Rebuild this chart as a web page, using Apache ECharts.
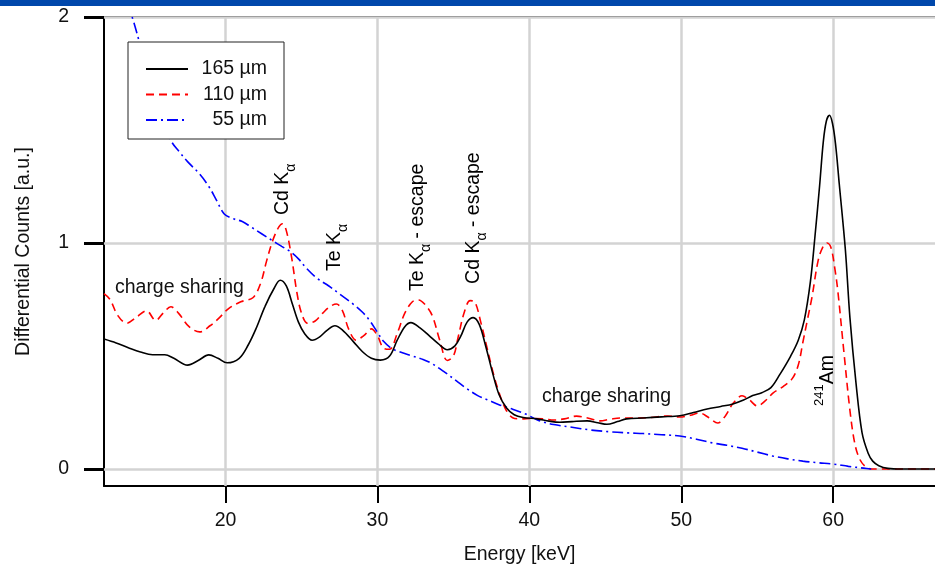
<!DOCTYPE html>
<html>
<head>
<meta charset="utf-8">
<script src="https://cdn.jsdelivr.net/npm/echarts@6.0.0/dist/echarts.min.js"></script>
<style>
  html, body { margin: 0; padding: 0; background: #fff; }
  #chart { width: 935px; height: 569px; }
</style>
</head>
<body>
<div id="chart"></div>
<script>
// Pulse-height spectra of a CdTe sensor (Am-241 source) for three pixel pitches.

const seriesNames = ['165 µm', '110 µm', '55 µm'];

// 165 µm pixels
const energy165 = [12.0, 12.8, 13.6, 14.4, 15.2, 16.0, 16.6, 17.5, 18.2, 18.9, 19.5, 20.1, 20.9, 21.5, 22.0, 22.6,
  23.2, 23.6, 24.0, 24.4, 24.8, 25.2, 25.7, 26.2, 26.7, 27.2, 27.7, 28.4, 29.0, 29.6, 30.2, 30.8, 31.3, 31.8,
  32.2, 32.8, 33.4, 34.0, 34.6, 35.1, 35.5, 35.9, 36.3, 36.7, 37.1, 37.6, 38.0, 38.5, 39.0, 39.6, 40.5, 41.3,
  42.0, 42.8, 43.8, 44.5, 45.1, 45.8, 46.4, 47.5, 48.7, 49.9, 50.8, 51.7, 52.6, 53.4, 54.1, 54.7, 55.3, 55.9,
  56.5, 57.2, 57.7, 58.1, 58.5, 58.8, 59.1, 59.35, 59.55, 59.75, 59.95, 60.15, 60.4, 60.8, 61.1, 61.5, 61.9,
  62.3, 62.6, 63.0, 63.6, 64.5, 66.7];
const counts165 = [0.575, 0.558, 0.537, 0.518, 0.506, 0.506, 0.49, 0.46, 0.48, 0.505, 0.49, 0.47, 0.49, 0.55, 0.62, 0.72,
  0.80, 0.835, 0.81, 0.73, 0.65, 0.60, 0.57, 0.585, 0.615, 0.634, 0.615, 0.565, 0.52, 0.49, 0.482, 0.50, 0.57, 0.63,
  0.648, 0.625, 0.59, 0.555, 0.528, 0.545, 0.59, 0.65, 0.67, 0.64, 0.55, 0.42, 0.33, 0.27, 0.24, 0.228, 0.222, 0.212,
  0.207, 0.21, 0.213, 0.205, 0.198, 0.21, 0.222, 0.226, 0.231, 0.236, 0.25, 0.266, 0.277, 0.288, 0.305, 0.325, 0.338, 0.36,
  0.42, 0.50, 0.57, 0.66, 0.83, 1.03, 1.25, 1.45, 1.54, 1.565, 1.53, 1.44, 1.26, 0.97, 0.67, 0.38, 0.16,
  0.07, 0.035, 0.015, 0.003, 0.0, 0.0];

// 110 µm pixels
const energy110 = [12.0, 12.4, 12.9, 13.5, 14.1, 14.8, 15.4, 15.9, 16.4, 16.9, 17.6, 18.3, 19.0, 19.6, 20.2, 21.0,
  21.8, 22.3, 22.7, 23.1, 23.5, 23.75, 24.0, 24.35, 24.7, 25.0, 25.4, 25.9, 26.4, 26.9, 27.3, 27.7, 28.1, 28.6,
  29.1, 29.6, 30.0, 30.4, 30.8, 31.3, 31.8, 32.3, 32.7, 33.1, 33.6, 34.1, 34.6, 35.0, 35.3, 35.7, 36.1, 36.4,
  36.8, 37.2, 37.6, 37.9, 38.4, 38.9, 39.4, 40.2, 41.0, 41.6, 42.3, 43.1, 43.9, 44.65, 45.3, 46.0, 47.0, 48.0,
  49.1, 49.9, 50.6, 51.2, 51.8, 52.4, 52.9, 53.4, 54.0, 54.5, 55.0, 55.5, 56.05, 56.7, 57.3, 57.7, 58.0, 58.3,
  58.6, 59.0, 59.3, 59.6, 59.85, 60.1, 60.3, 60.7, 61.1, 61.4, 61.7, 62.1, 62.6, 66.7];
const counts110 = [0.776, 0.75, 0.68, 0.645, 0.67, 0.70, 0.658, 0.69, 0.718, 0.69, 0.63, 0.607, 0.635, 0.67, 0.71, 0.74,
  0.758, 0.82, 0.92, 1.01, 1.07, 1.085, 1.055, 0.936, 0.78, 0.69, 0.645, 0.655, 0.69, 0.72, 0.73, 0.70, 0.62, 0.57,
  0.59, 0.62, 0.59, 0.535, 0.53, 0.60, 0.69, 0.74, 0.748, 0.73, 0.68, 0.57, 0.48, 0.50, 0.58, 0.69, 0.745, 0.74,
  0.65, 0.54, 0.43, 0.36, 0.27, 0.227, 0.222, 0.224, 0.222, 0.217, 0.222, 0.234, 0.225, 0.213, 0.22, 0.226, 0.226, 0.228,
  0.235, 0.23, 0.238, 0.248, 0.228, 0.204, 0.235, 0.29, 0.324, 0.305, 0.279, 0.30, 0.337, 0.365, 0.40, 0.46, 0.56, 0.66,
  0.76, 0.92, 0.98, 1.0, 0.98, 0.89, 0.79, 0.52, 0.26, 0.12, 0.05, 0.012, 0.0, 0.0];

// 55 µm pixels
const energy55 = [12.0, 12.8, 13.5, 13.9, 14.35, 15.0, 15.7, 16.4, 17.0, 17.5, 18.3, 18.9, 19.4, 19.9, 20.4, 21.1,
  21.7, 22.4, 23.1, 23.7, 24.2, 24.8, 25.3, 26.0, 26.8, 27.5, 28.4, 29.0, 29.5, 30.0, 30.4, 30.9, 31.4, 32.3,
  33.0, 33.6, 34.4, 35.2, 35.9, 36.6, 37.3, 38.0, 38.9, 39.8, 40.6, 41.6, 42.8, 44.0, 45.3, 46.5, 47.5, 48.7,
  49.9, 51.0, 52.1, 53.0, 54.0, 55.0, 56.0, 57.0, 58.0, 59.0, 60.0, 61.0, 62.0, 62.5];
const counts55 = [2.42, 2.23, 2.07, 1.99, 1.885, 1.74, 1.60, 1.455, 1.40, 1.36, 1.305, 1.25, 1.19, 1.13, 1.11, 1.095,
  1.07, 1.04, 1.01, 0.985, 0.965, 0.93, 0.89, 0.845, 0.81, 0.775, 0.73, 0.695, 0.656, 0.605, 0.565, 0.535, 0.52, 0.50,
  0.485, 0.466, 0.43, 0.39, 0.355, 0.325, 0.305, 0.285, 0.265, 0.242, 0.215, 0.197, 0.185, 0.173, 0.165, 0.16, 0.157, 0.152,
  0.146, 0.132, 0.115, 0.105, 0.092, 0.075, 0.058, 0.045, 0.035, 0.028, 0.022, 0.012, 0.004, 0.0];

// Axis ticks and labels
const xTicks = [20, 30, 40, 50, 60];
const yTicks = [0, 1, 2];

// Peak / region annotations: [rich text, energy, counts at the start of the text]
const peakLabels = [
  ['{m|Cd K}{s|α}', 23.78, 1.124],
  ['{m|Te K}{s|α}', 27.20, 0.876],
  ['{m|Te K}{s|α}{m| - escape}', 32.66, 0.788],
  ['{m|Cd K}{s|α}{m| - escape}', 36.35, 0.819],
  ['{u|241}{m|Am}', 59.65, 0.279]
];
const regionLabels = [
  ['charge sharing', 12.72, 0.801],
  ['charge sharing', 40.83, 0.319]
];

const FONT = '"Liberation Sans", Arial, Helvetica, sans-serif';
const FS = 19.5;
const TXT = '#111';

const zip = (xs, ys) => xs.map((x, i) => [x, ys[i]]);

const chart = echarts.init(document.getElementById('chart'), null, { renderer: 'canvas' });

const option = {
  animation: false,
  backgroundColor: '#fff',
  textStyle: { fontFamily: FONT },
  grid: { left: 104, right: 0, top: 17, bottom: 83, outerBoundsMode: 'none', containLabel: false },
  legend: {
    data: seriesNames,
    orient: 'vertical',
    left: 128,
    top: 42,
    padding: [17, 17, 9, 17],
    itemWidth: 42,
    itemHeight: 14,
    itemGap: 5.5,
    borderColor: '#222',
    borderWidth: 1,
    backgroundColor: '#fff',
    selectedMode: false,
    // plain line samples, no marker in the middle
    itemStyle: { color: 'rgba(0,0,0,0)', borderColor: 'rgba(0,0,0,0)', borderWidth: 0, opacity: 0 },
    lineStyle: { width: 2 },
    formatter: n => '{t|' + n + '}',
    textStyle: {
      rich: { t: { width: 74, lineHeight: 20, align: 'right', fontSize: FS, fontFamily: FONT, color: TXT } }
    }
  },
  xAxis: [{
    type: 'value', min: 12, max: 66.7, position: 'bottom',
    axisLine: { show: true, onZero: false, lineStyle: { color: '#000', width: 2 } },
    axisTick: { show: true, customValues: xTicks, length: 17, lineStyle: { color: '#000', width: 2 } },
    axisLabel: { customValues: xTicks, margin: 25, fontSize: FS, fontFamily: FONT, color: TXT },
    splitLine: { show: false },
    name: 'Energy [keV]', nameLocation: 'middle', nameGap: 59,
    nameTextStyle: { fontSize: FS, fontFamily: FONT, color: TXT }
  }, {
    type: 'value', min: 12, max: 66.7, position: 'top',
    axisLine: { show: true, onZero: false, lineStyle: { color: '#000', width: 2 } },
    axisTick: { show: false }, axisLabel: { show: false }, splitLine: { show: false }
  }],
  yAxis: {
    type: 'value', min: -0.075, max: 2,
    axisLine: { show: true, onZero: false, lineStyle: { color: '#000', width: 2 } },
    axisTick: { show: true, customValues: yTicks, length: 20, lineStyle: { color: '#000', width: 3 } },
    axisLabel: { customValues: yTicks, margin: 35, fontSize: FS, fontFamily: FONT, color: TXT },
    splitLine: { show: false },
    name: 'Differential Counts [a.u.]', nameLocation: 'middle', nameRotate: 90, nameGap: 70,
    nameTextStyle: { fontSize: FS, fontFamily: FONT, color: TXT }
  },
  series: [
    {
      // light grid drawn beneath the spectra
      type: 'line', name: 'grid', data: [], z: 1, silent: true,
      markLine: {
        silent: true, z: 1, symbol: ['none', 'none'], animation: false,
        label: { show: false }, emphasis: { disabled: true },
        lineStyle: { color: '#d3d3d3', width: 2.5, type: 'solid' },
        data: xTicks.map(v => ({ xAxis: v })).concat(yTicks.map(v => ({ yAxis: v })))
      }
    },
    {
      type: 'line', name: seriesNames[0], data: zip(energy165, counts165), z: 4,
      showSymbol: false, symbol: 'none', smooth: 0.35, clip: true,
      lineStyle: { color: '#000', width: 1.6 }, itemStyle: { color: '#000' }
    },
    {
      type: 'line', name: seriesNames[1], data: zip(energy110, counts110), z: 3,
      showSymbol: false, symbol: 'none', smooth: 0.35, clip: true,
      lineStyle: { color: '#ff0000', width: 1.6, type: [8, 5] }, itemStyle: { color: '#ff0000' }
    },
    {
      type: 'line', name: seriesNames[2], data: zip(energy55, counts55), z: 3,
      showSymbol: false, symbol: 'none', smooth: 0.35, clip: true,
      lineStyle: { color: '#0000ff', width: 1.6, type: [11, 4, 2, 4] }, itemStyle: { color: '#0000ff' }
    }
  ]
};

chart.setOption(option);

// Annotations placed through the chart's own coordinate conversion
const px = (e, v) => chart.convertToPixel({ gridIndex: 0 }, [e, v]);
const richStyles = {
  m: { fontSize: FS, fontFamily: FONT, color: TXT, lineHeight: 30, verticalAlign: 'middle' },
  s: { fontSize: 14, fontFamily: FONT, color: TXT, lineHeight: 30, verticalAlign: 'bottom' },
  u: { fontSize: 13, fontFamily: FONT, color: TXT, lineHeight: 30, verticalAlign: 'top' }
};
const graphics = [{
  type: 'rect', left: 0, top: 0, z: 100,
  shape: { x: 0, y: 0, width: 935, height: 6 },
  style: { fill: '#0047ab' }
}];
peakLabels.forEach(([t, e, v]) => {
  const p = px(e, v);
  graphics.push({
    type: 'text', x: p[0], y: p[1], rotation: Math.PI / 2, z: 50,
    style: { text: t, rich: richStyles, align: 'left', verticalAlign: 'middle' }
  });
});
regionLabels.forEach(([t, e, v]) => {
  const p = px(e, v);
  graphics.push({
    type: 'text', x: p[0], y: p[1], z: 50,
    style: { text: t, font: FS + 'px ' + FONT, fill: TXT, align: 'left', verticalAlign: 'middle' }
  });
});
chart.setOption({ graphic: graphics });
</script>
</body>
</html>
